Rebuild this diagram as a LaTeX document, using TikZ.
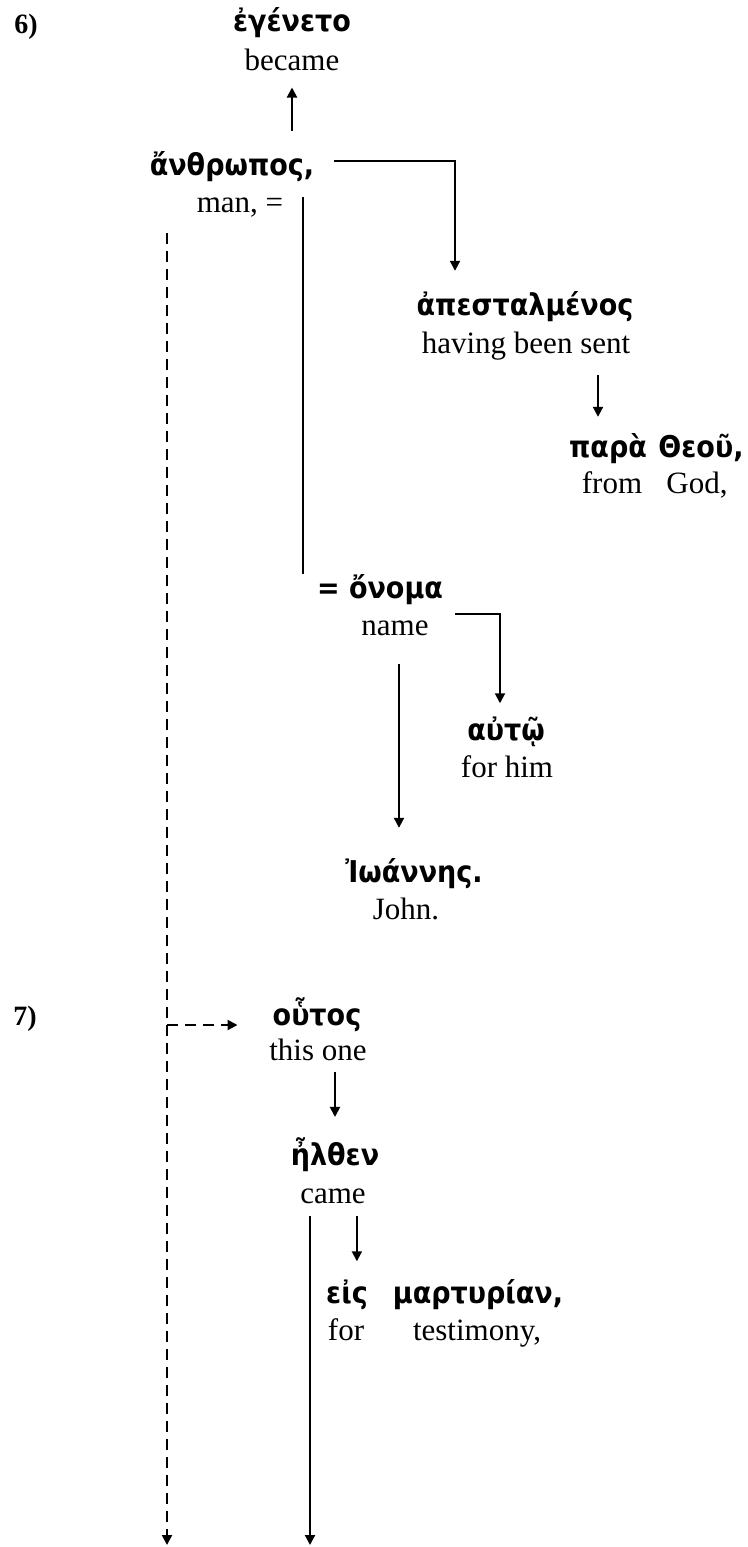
\documentclass[tikz,border=0pt]{standalone}
\usepackage{fontspec}
\setmainfont{Liberation Serif}
\newfontfamily\grfont[Script=Greek, FakeStretch=0.9]{DejaVu Sans}
\usetikzlibrary{arrows.meta}

\begin{document}
\begin{tikzpicture}[
      x=1pt, y=-1pt,
      gk/.style={anchor=base, inner sep=0pt,
                 font=\grfont\bfseries\fontsize{30}{33}\selectfont},
      gl/.style={anchor=base, inner sep=0pt, font=\fontsize{31}{36}\selectfont},
      num/.style={anchor=base, inner sep=0pt, font=\bfseries\fontsize{28}{32}\selectfont},
      conn/.style={line width=2pt},
      arr/.style={conn, -{Triangle[length=10pt,width=10pt]}},
      dsh/.style={conn, dash pattern=on 11pt off 7pt}
    ]
      \useasboundingbox (0,0) rectangle (747,1547);
      % verse 6
      \node[num] (v6) at (26,33) {6)};
      \node[gk] (egeneto) at (292,31) {ἐγένετο};
      \node[gl] (became) at (292,70) {became};
      \node[gk] (anthropos) at (232,175) {ἄνθρωπος,};
      \node[gl] (man) at (240,212) {man, =};
      \node[gk] (apestalmenos) at (525,315) {ἀπεσταλμένος};
      \node[gl] (sent) at (526,353) {having been sent};
      \node[gk] (para) at (608,457) {παρὰ};
      \node[gk] (theou) at (701,457) {Θεοῦ,};
      \node[gl] (from) at (612,493) {from};
      \node[gl] (god) at (697,493) {God,};
      \node[gk] (onoma) at (380,598) {= ὄνομα};
      \node[gl] (name) at (395,635) {name};
      \node[gk] (autw) at (506,740) {αὐτῷ};
      \node[gl] (forhim) at (507,777) {for him};
      \node[gk] (ioannes) at (414,882) {Ἰωάννης.};
      \node[gl] (john) at (406,919) {John.};
      % verse 7
      \node[num] (v7) at (25,1025) {7)};
      \node[gk] (outos) at (317,1025) {οὗτος};
      \node[gl] (thisone) at (318,1060) {this one};
      \node[gk] (elthen) at (335,1165) {ἦλθεν};
      \node[gl] (came) at (333,1203) {came};
      \node[gk] (eis) at (347,1303) {εἰς};
      \node[gk] (martyrian) at (478,1303) {μαρτυρίαν,};
      \node[gl] (for) at (346,1340) {for};
      \node[gl] (testimony) at (477,1340) {testimony,};
      \coordinate (dtop) at (167,233);
      \coordinate (dbot) at (167,1545);
      \coordinate (cbot) at (310,1545);

      \draw[arr, shorten <=20pt, shorten >=17pt] (anthropos.north -| became.south) -- (became.south);
      \draw[arr, shorten <=20pt, shorten >=20pt] ([yshift=5pt]anthropos.east) -| ([xshift=-70pt]apestalmenos.north);
      \draw[conn] ([xshift=20pt]man.north east) -- ([xshift=20pt]man.north east |- onoma.north);
      \draw[arr, shorten <=15pt, shorten >=16pt] ([xshift=-10pt]para.north |- sent.south) -- ([xshift=-10pt]para.north);
      \draw[arr, shorten <=26pt, shorten >=13pt] ([yshift=6pt]name.north east) -| ([xshift=-6pt]autw.north);
      \draw[arr, shorten <=28pt, shorten >=30pt] ([xshift=4pt]name.south) -- ([xshift=4pt]name.south |- ioannes.north);
      % dashed link down the left
      \draw[dsh, -{Triangle[length=10pt,width=10pt]}] (dtop) -- (dbot);
      \draw[dsh, -{Triangle[length=10pt,width=10pt]}, shorten >=35pt] (dtop |- outos.base) -- (outos.base west);
      \draw[arr, shorten <=11pt, shorten >=20pt] (thisone.south -| elthen.north) -- (elthen.north);
      \draw[arr, shorten <=12pt] (came.south -| cbot) -- (cbot);
      \draw[arr, shorten <=12pt, shorten >=18pt] ([xshift=-9pt]came.south east) -- ([xshift=-9pt]came.south east |- eis.north);
\end{tikzpicture}
\end{document}
